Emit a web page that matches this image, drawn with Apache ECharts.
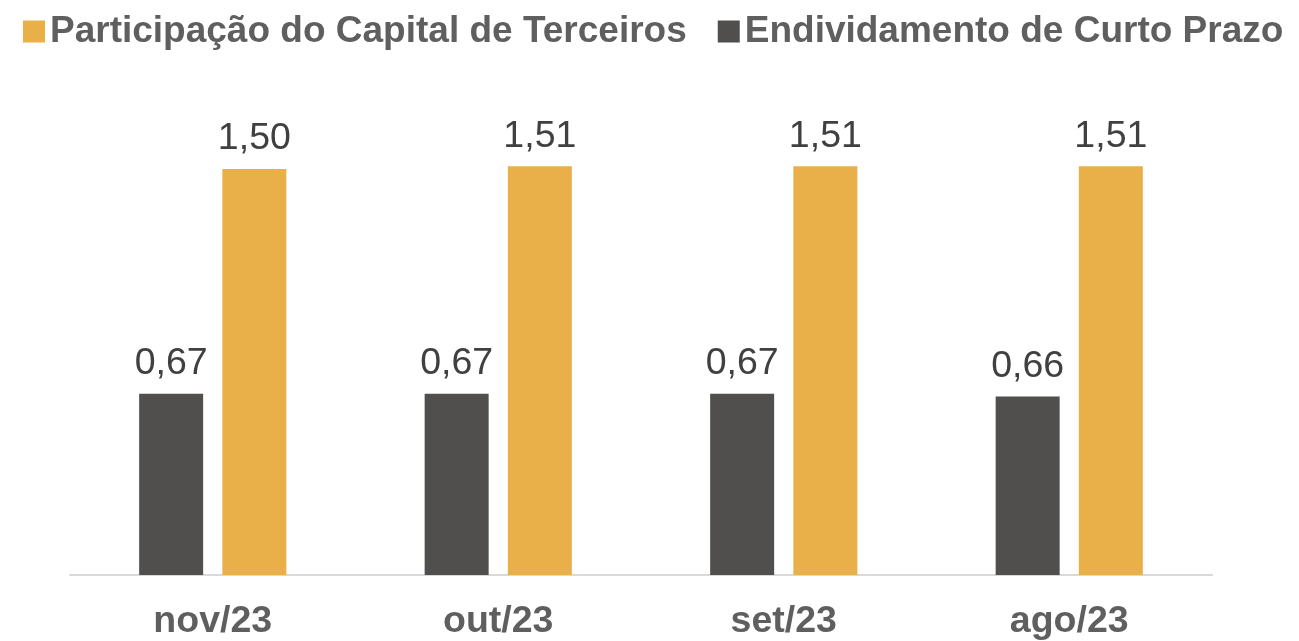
<!DOCTYPE html>
<html>
<head>
    <meta charset="utf-8">
    <title>Indicadores</title>
    <script src="https://cdn.jsdelivr.net/npm/echarts@6/dist/echarts.min.js"></script>
    <style>
        html, body { margin: 0; padding: 0; background: #fff; }
    </style>
</head>
<body>
    <div id="main" style="width: 1299px;height:641px;"></div>
    <script type="text/javascript">
        var categories = ['nov/23', 'out/23', 'set/23', 'ago/23'];
        var curtoPrazo = [0.67, 0.67, 0.67, 0.66];
        var capitalTerceiros = [1.50, 1.51, 1.51, 1.51];

        var nomeCurto = 'Endividamento de Curto Prazo';
        var nomeCapital = 'Participação do Capital de Terceiros';
        var fonte = '"Liberation Sans", Arial, sans-serif';

        var myChart = echarts.init(document.getElementById('main'));

        function fmt(p) {
            return p.value.toFixed(2).replace('.', ',');
        }

        var option = {
            animation: false,
            textStyle: { fontFamily: fonte },
            legend: {
                data: [nomeCapital, nomeCurto],
                left: 18,
                top: 8,
                itemWidth: 22,
                itemHeight: 22,
                itemGap: 31,
                icon: 'rect',
                textStyle: {
                    fontFamily: fonte,
                    fontSize: 37,
                    fontWeight: 'bold',
                    color: '#5f5f5f'
                }
            },
            grid: {
                left: 70,
                right: 87,
                top: 142,
                bottom: 65
            },
            xAxis: {
                type: 'category',
                data: categories,
                axisTick: { show: false },
                axisLine: { lineStyle: { color: '#d9d9d9', width: 2 } },
                axisLabel: {
                    margin: 28,
                    fontFamily: fonte,
                    fontSize: 37.5,
                    fontWeight: 'bold',
                    color: '#5f5f5f'
                }
            },
            yAxis: {
                type: 'value',
                min: 0,
                max: 1.6,
                show: false,
                splitLine: { show: false }
            },
            series: [
                {
                    name: nomeCurto,
                    type: 'bar',
                    data: curtoPrazo,
                    barWidth: 64,
                    barGap: '30%',
                    itemStyle: { color: '#514f4d' },
                    label: {
                        show: true,
                        position: 'top',
                        distance: 11,
                        formatter: fmt,
                        fontFamily: fonte,
                        fontSize: 37.5,
                        color: '#404040'
                    }
                },
                {
                    name: nomeCapital,
                    type: 'bar',
                    data: capitalTerceiros,
                    barWidth: 64,
                    itemStyle: { color: '#e9af48' },
                    label: {
                        show: true,
                        position: 'top',
                        distance: 11,
                        formatter: fmt,
                        fontFamily: fonte,
                        fontSize: 37.5,
                        color: '#404040'
                    }
                }
            ]
        };

        myChart.setOption(option);
    </script>
</body>
</html>
